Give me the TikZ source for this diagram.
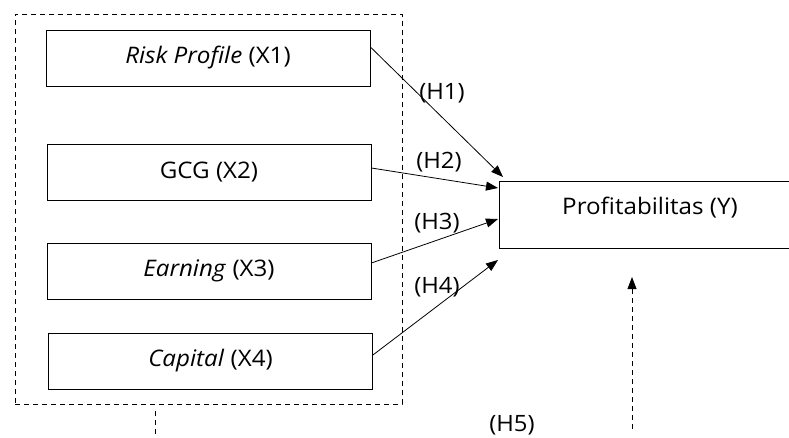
\documentclass[tikz,border=0pt]{standalone}
\usepackage{fontspec}
\setmainfont{Open Sans}[FakeStretch=1.06]
\usetikzlibrary{arrows.meta}
\begin{document}
\begin{tikzpicture}[x=1pt,y=-1pt,
  var/.style={draw, line width=0.8pt, minimum width=324pt, minimum height=56pt, inner sep=0pt, font=\fontsize{22.8}{26}\selectfont},
  dep/.style={draw, line width=0.8pt, minimum width=301pt, minimum height=67pt, inner sep=0pt},
  txt/.style={inner sep=0pt, font=\fontsize{22.8}{26}\selectfont},
  arr/.style={-{Triangle[length=12pt,width=9pt]}, line width=0.8pt},
  dsh/.style={dash pattern=on 5pt off 4pt, line width=0.8pt},
  hyp/.style={inner sep=0pt, font=\fontsize{22.5}{26}\selectfont}]
\useasboundingbox (0,0) rectangle (789,437);
% group box
\node[draw, dsh, minimum width=387pt, minimum height=390pt, inner sep=0pt] (grp) at (208.5,209) {};
% variables
\node[var] (x1) at (208,58) {\textit{Risk Profile} (X1)};
\node[var] (x2) at (209,172) {GCG (X2)};
\node[var] (x3) at (209,271) {\textit{Earning} (X3)};
\node[var] (x4) at (210.5,361) {\textit{Capital} (X4)};
% dependent
\node[dep] (y) at (649.5,214.5) {};
\node[txt] (ylab) at (650,208) {Profitabilitas (Y)};
% arrow ends
\coordinate (e1) at (503,177);
\coordinate (e2) at (498,188);
\coordinate (e3) at (498,219);
\coordinate (e4) at (498,260);
\draw[arr] ([yshift=11pt]x1.east) -- (e1);
\draw[arr] ([yshift=4pt]x2.east) -- (e2);
\draw[arr] ([yshift=8pt]x3.east) -- (e3);
\draw[arr] ([yshift=6pt]x4.east) -- (e4);
% labels
\node[hyp] (h1) at (442,93) {(H1)};
\node[hyp] (h2) at (439,162) {(H2)};
\node[hyp] (h3) at (437,223) {(H3)};
\node[hyp] (h4) at (437,287) {(H4)};
\node[hyp] (h5) at (512,425) {(H5)};
% moderation stubs
\coordinate (s1) at (155,411);
\coordinate (s2) at (155,445);
\draw[dsh] (s1) -- (s2);
\coordinate (m1) at (632,429);
\coordinate (m2) at (632,277);
\draw[dsh, -{Triangle[length=12pt,width=9pt]}] (m1) -- (m2);
\end{tikzpicture}
\end{document}
